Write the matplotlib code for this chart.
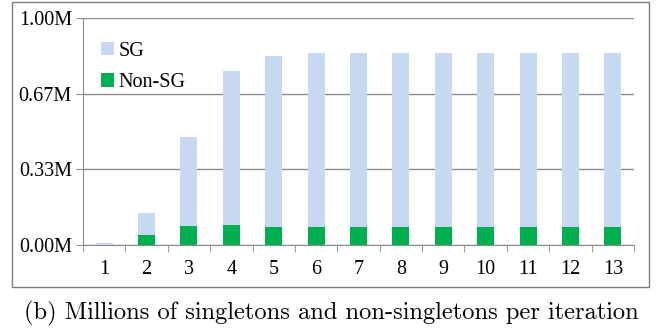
import matplotlib.pyplot as plt
from matplotlib.patches import Rectangle

# iteration number, totals and non-singleton counts (millions)
iterations = [1, 2, 3, 4, 5, 6, 7, 8, 9, 10, 11, 12, 13]
total = [0.010, 0.141, 0.476, 0.767, 0.833, 0.846, 0.846, 0.846, 0.846, 0.846, 0.846, 0.846, 0.846]
non_sg = [0.000, 0.044, 0.082, 0.088, 0.079, 0.079, 0.079, 0.079, 0.079, 0.079, 0.079, 0.079, 0.079]
sg = [t - n for t, n in zip(total, non_sg)]

yticks = [0, 1/3, 2/3, 1.0]
ytick_labels = ['0.00M', '0.33M', '0.67M', '1.00M']

blue = '#c6d9f1'
green = '#00b050'
grid = '#8c8c8c'
label_font = {'family': 'Liberation Serif', 'size': 14.5}

fig = plt.figure(figsize=(6.63, 3.32), dpi=100)
ax = fig.add_axes([83/663, 87/332, 551/663, 227/332])

ax.bar(iterations, non_sg, width=0.4, color=green, label='Non-SG', zorder=3)
ax.bar(iterations, sg, width=0.4, bottom=non_sg, color=blue, label='SG', zorder=3)

ax.set_xlim(0.5, 13.5)
ax.set_ylim(0, 1.0)
ax.set_yticks(yticks)
ax.set_yticklabels(ytick_labels, **label_font)
ax.set_xticks(iterations)
ax.set_xticklabels([str(i) for i in iterations], **label_font)
ax.set_xticks([i + 0.5 for i in range(0, 14)], minor=True)
ax.tick_params(axis='x', which='major', length=0, pad=11)
ax.tick_params(axis='x', which='minor', length=5, color=grid)
ax.tick_params(axis='y', length=5, color=grid, pad=3)
ax.yaxis.grid(True, color=grid, linewidth=1, zorder=0)

for side in ['top', 'right']:
    ax.spines[side].set_visible(False)
for side in ['left', 'bottom']:
    ax.spines[side].set_color(grid)

handles, labels = ax.get_legend_handles_labels()
ax.legend(handles[::-1], labels[::-1], loc='upper left', bbox_to_anchor=(0.0, 0.975),
          frameon=False, prop=label_font,
          handlelength=0.65, handleheight=0.65, handletextpad=0.2, labelspacing=0.6)

# outer frame around the chart
fig.patches.append(Rectangle((12/663, 45/332), 637/663, 285/332, transform=fig.transFigure,
                             fill=False, edgecolor='#7f7f7f', linewidth=1))

fig.text(0.5, 19/332, '(b) Millions of singletons and non-singletons per iteration',
         ha='center', va='center', family='cmr10', fontsize=17.6)

fig.savefig('out.png', dpi=100)
